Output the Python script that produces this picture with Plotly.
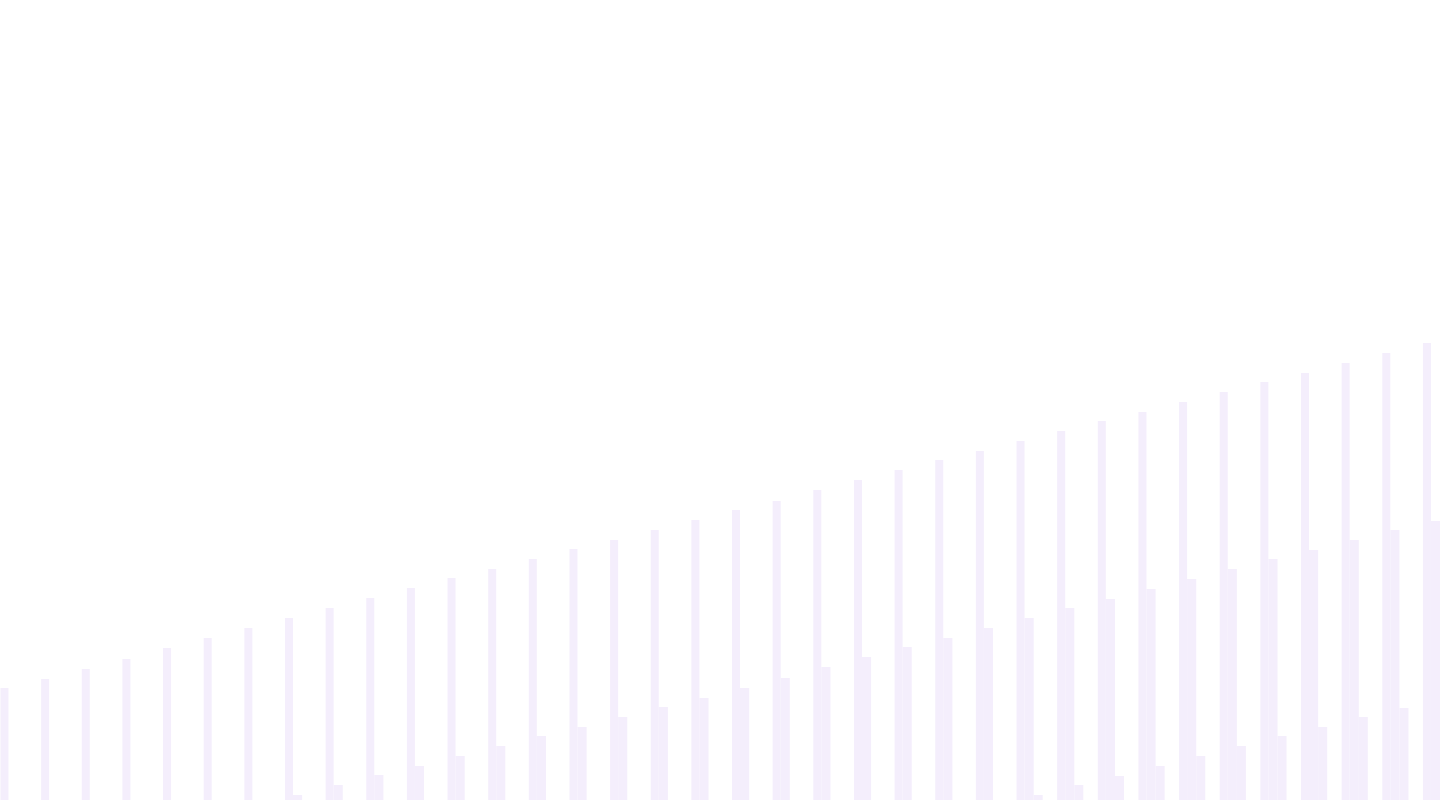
import plotly.graph_objects as go

# one group per step, three bars side by side in each group
grupos = list(range(36))

alto = [112, 121, 131, 141, 152, 162, 172, 182, 192, 202, 212, 222,
        231, 241, 251, 260, 270, 280, 290, 299, 310, 320, 330, 340,
        349, 359, 369, 379, 388, 398, 408, 418, 427, 437, 447, 457]

medio = [0, 0, 0, 0, 0, 0, 0, 5, 15, 25, 34, 44,
         54, 64, 73, 83, 93, 102, 112, 122, 133, 143, 153, 162,
         172, 182, 192, 201, 211, 221, 231, 241, 250, 260, 270, 279]

baixo = [0, 0, 0, 0, 0, 0, 0, 0, 0, 0, 0, 0,
         0, 0, 0, 0, 0, 0, 0, 0, 0, 0, 0, 0,
         0, 5, 15, 24, 34, 44, 54, 64, 73, 83, 92, 102]

cor = '#f4eefc'

fig = go.Figure()
fig.add_trace(go.Bar(x=grupos, y=alto, offset=0, width=0.197,
                     marker=dict(color=cor, line=dict(width=0)), name='alto'))
fig.add_trace(go.Bar(x=grupos, y=medio, offset=0.197, width=0.225,
                     marker=dict(color=cor, line=dict(width=0)), name='medio'))
fig.add_trace(go.Bar(x=grupos, y=baixo, offset=0.422, width=0.222,
                     marker=dict(color=cor, line=dict(width=0)), name='baixo'))

fig.update_layout(
    width=1440, height=800,
    margin=dict(l=0, r=0, t=0, b=0),
    paper_bgcolor='white', plot_bgcolor='white',
    barmode='overlay',
    showlegend=False,
    hovermode=False,
    xaxis=dict(range=[-0.012, 35.42], visible=False, fixedrange=True),
    yaxis=dict(range=[0, 800], visible=False, fixedrange=True),
)
# tira a margem padrao do body para o grafico ocupar a janela toda
fig.write_html("out.html", config={'displayModeBar': False},
               post_script="document.body.style.margin='0';")
